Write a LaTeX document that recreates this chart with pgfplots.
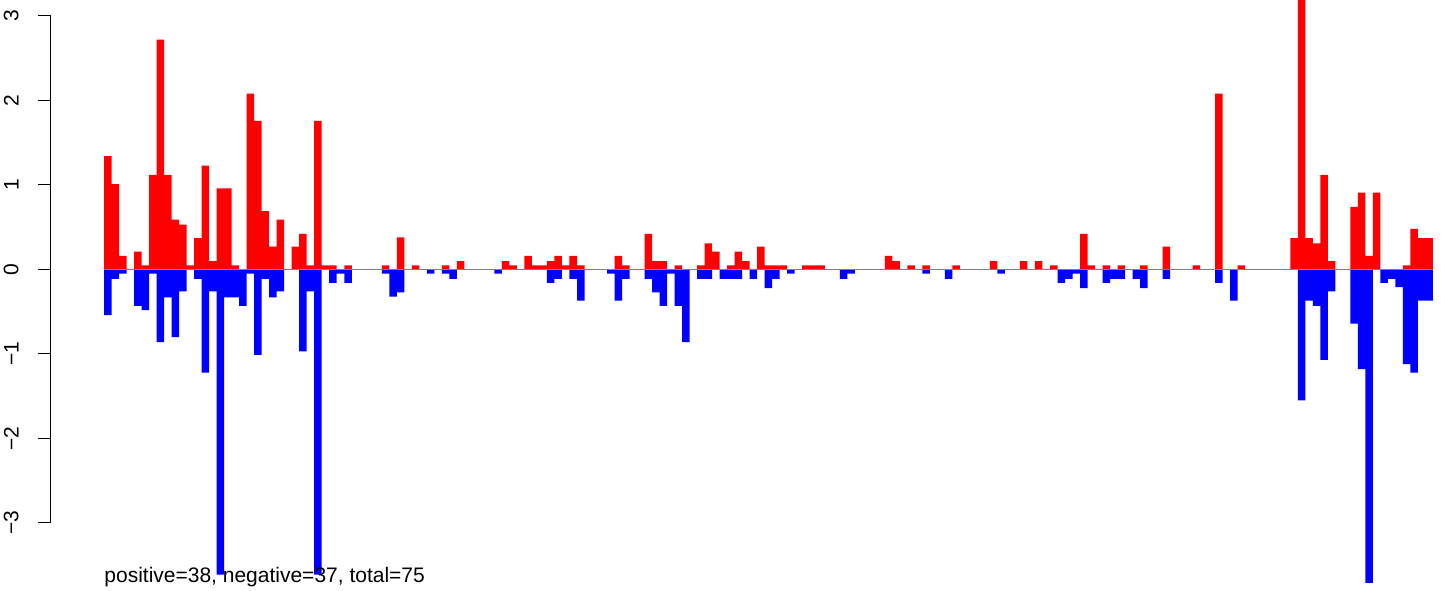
\documentclass[border=0pt]{standalone}
\usepackage{fontspec}
\setmainfont{Liberation Sans}
\usepackage{pgfplots}
\usepackage{pgfplotstable}
\pgfplotsset{compat=1.18}

\pgfplotstableread{
k v
0 1.34
1 1.01
2 0.16
4 0.21
5 0.05
6 1.12
7 2.72
8 1.12
9 0.59
10 0.53
11 0.05
12 0.37
13 1.23
14 0.10
15 0.96
16 0.96
17 0.05
19 2.08
20 1.76
21 0.69
22 0.27
23 0.59
25 0.27
26 0.42
27 0.05
28 1.76
29 0.05
30 0.05
32 0.05
37 0.05
39 0.38
41 0.05
45 0.05
47 0.10
53 0.10
54 0.05
56 0.16
57 0.05
58 0.05
59 0.10
60 0.16
61 0.05
62 0.16
63 0.05
68 0.16
69 0.05
72 0.42
73 0.10
74 0.10
76 0.05
79 0.05
80 0.31
81 0.21
83 0.05
84 0.21
85 0.10
87 0.27
88 0.05
89 0.05
90 0.05
93 0.05
94 0.05
95 0.05
104 0.16
105 0.10
107 0.05
109 0.05
113 0.05
118 0.10
122 0.10
124 0.10
126 0.05
130 0.42
131 0.05
133 0.05
135 0.05
138 0.05
141 0.27
145 0.05
148 2.08
151 0.05
158 0.37
159 3.50
160 0.37
161 0.31
162 1.12
163 0.10
166 0.74
167 0.91
168 0.16
169 0.91
173 0.05
174 0.48
175 0.37
176 0.37
}\redtab

\pgfplotstableread{
k v
0 -0.54
1 -0.11
2 -0.05
4 -0.43
5 -0.48
6 -0.05
7 -0.86
8 -0.33
9 -0.80
10 -0.26
12 -0.11
13 -1.22
14 -0.26
15 -3.61
16 -0.33
17 -0.33
18 -0.43
19 -0.05
20 -1.01
21 -0.11
22 -0.33
23 -0.26
26 -0.97
27 -0.26
28 -3.61
30 -0.16
31 -0.05
32 -0.16
37 -0.05
38 -0.32
39 -0.27
43 -0.05
45 -0.05
46 -0.11
52 -0.05
59 -0.16
60 -0.11
62 -0.11
63 -0.37
67 -0.05
68 -0.37
69 -0.11
72 -0.11
73 -0.27
74 -0.43
75 -0.05
76 -0.43
77 -0.86
79 -0.11
80 -0.11
82 -0.11
83 -0.11
84 -0.11
86 -0.11
88 -0.22
89 -0.11
91 -0.05
98 -0.11
99 -0.05
109 -0.05
112 -0.11
119 -0.05
127 -0.16
128 -0.11
129 -0.05
130 -0.22
133 -0.16
134 -0.11
135 -0.11
137 -0.11
138 -0.22
141 -0.11
148 -0.16
150 -0.37
159 -1.55
160 -0.37
161 -0.43
162 -1.07
163 -0.26
166 -0.64
167 -1.18
168 -3.71
170 -0.16
171 -0.11
172 -0.21
173 -1.12
174 -1.22
175 -0.37
176 -0.37
}\bluetab

\begin{document}
\begin{tikzpicture}
\useasboundingbox (0,0) rectangle (720.5pt,295pt);
\begin{axis}[
  at={(25.35pt,0pt)}, anchor=south west,
  scale only axis, width=695.15pt, height=295pt,
  xmin=-7.099, xmax=178.08, ymin=-3.793, ymax=3.189,
  axis x line=none,
  axis y line*=left,
  y axis line style={draw=none},
  ytick={-3,-2,-1,0,1,2,3},
  yticklabels={−3,−2,−1,0,1,2,3},
  tick align=outside,
  major tick length=6.3pt,
  tick style={black, line width=0.5pt},
  yticklabel style={xshift=-9.5pt, rotate=90, anchor=south, inner sep=0pt, font=\fontsize{10.5}{12}\selectfont},
  clip mode=individual,
]
\addplot[ybar, bar width=1, bar shift=0pt, fill=red, draw=none] table[x expr=\thisrow{k}+0.5, y=v] {\redtab};
\addplot[ybar, bar width=1, bar shift=0pt, fill=blue, draw=none] table[x expr=\thisrow{k}+0.5, y=v] {\bluetab};
\addplot[gray, line width=0.6pt] coordinates {(0,0) (177,0)};
\draw[black, line width=0.5pt] (axis cs:-7.099,-3) -- (axis cs:-7.099,3);
\node[anchor=base west, inner sep=0pt, font=\fontsize{10.5}{12}\selectfont] at (axis cs:0,-3.702) {positive=38, negative=37, total=75};
\end{axis}
\end{tikzpicture}
\end{document}
